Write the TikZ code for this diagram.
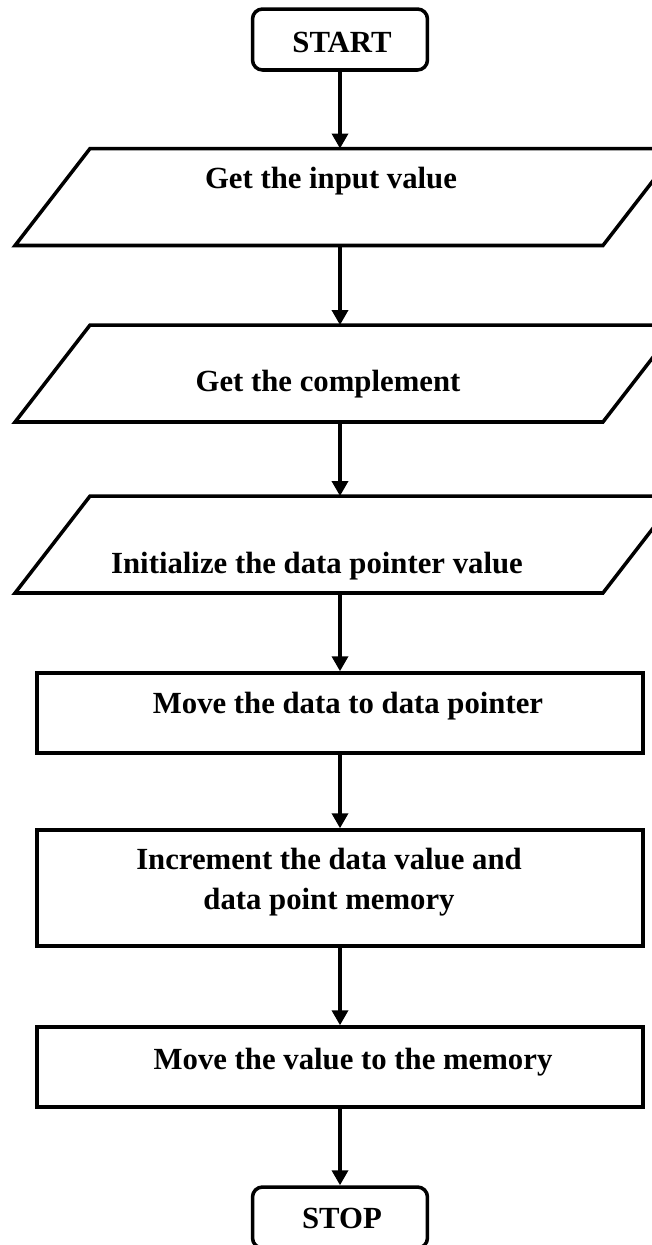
\documentclass[tikz,border=0pt]{standalone}
\usepackage{fontspec}
\setmainfont{Liberation Serif}
\usepackage{tikz}
\usetikzlibrary{positioning}
\usetikzlibrary{arrows.meta}

\tikzset{
  term/.style={draw, line width=2pt, rounded corners=0.2cm, minimum width=3.5cm, minimum height=1.22cm},
  io/.style={minimum width=13.26cm, minimum height=1.94cm, inner sep=0pt, outer sep=0pt},
  proc/.style={draw, line width=2pt, minimum width=12.12cm},
  arr/.style={line width=2pt, -{Triangle[width=0.32cm, length=0.3cm]}},
  txt/.style={font=\fontsize{17.5}{22.8}\selectfont\bfseries, align=center, inner sep=0pt}
}

\begin{document}
\begin{tikzpicture}[x=0.02cm, y=-0.02cm]
				    		\useasboundingbox (0,0) rectangle (652,1245);
				    		\clip (0,0) rectangle (652,1245);
				    		\node[term] (start) at (340,39.5) {};
				    		\node[io] (p1) at (346.5,197) {};
				    		\node[io] (p2) at (346.5,373.5) {};
				    		\node[io] (p3) at (346.5,544.5) {};
				    		\foreach \p in {p1,p2,p3}
				    		  \draw[line width=2pt] (\p.south west) -- ([xshift=-1.5cm]\p.south east) -- (\p.north east) -- ([xshift=1.5cm]\p.north west) -- cycle;
				    		\node[proc, minimum height=1.6cm] (r1) at (340,713) {};
				    		\node[proc, minimum height=2.32cm] (r2) at (340,888) {};
				    		\node[proc, minimum height=1.6cm] (r3) at (340,1067) {};
				    		\node[term] (stop) at (340,1217.5) {};
				    		% texts
				    		\node[txt, anchor=base] (start-t) at (342,52) {START};
				    		\node[txt, anchor=base] (p1-t) at (331,188) {Get the input value};
				    		\node[txt, anchor=base] (p2-t) at (328,391) {Get the complement};
				    		\node[txt, anchor=base] (p3-t) at (317,573) {Initialize the data pointer value};
				    		\node[txt, anchor=base] (r1-t) at (348,713) {Move the data to data pointer};
				    		\node[txt] (r2-t) at (329,882) {Increment the data value and\\data point memory};
				    		\node[txt, anchor=base] (r3-t) at (353,1069) {Move the value to the memory};
				    		\node[txt, anchor=base] (stop-t) at (342,1228) {STOP};
				    		% arrows
				    		\draw[arr] (start) -- (start |- p1.north);
				    		\draw[arr] (start |- p1.south) -- (start |- p2.north);
				    		\draw[arr] (start |- p2.south) -- (start |- p3.north);
				    		\draw[arr] (start |- p3.south) -- (r1);
				    		\draw[arr] (r1) -- (r2);
				    		\draw[arr] (r2) -- (r3);
				    		\draw[arr] (r3) -- (stop);
						\end{tikzpicture}
\end{document}
